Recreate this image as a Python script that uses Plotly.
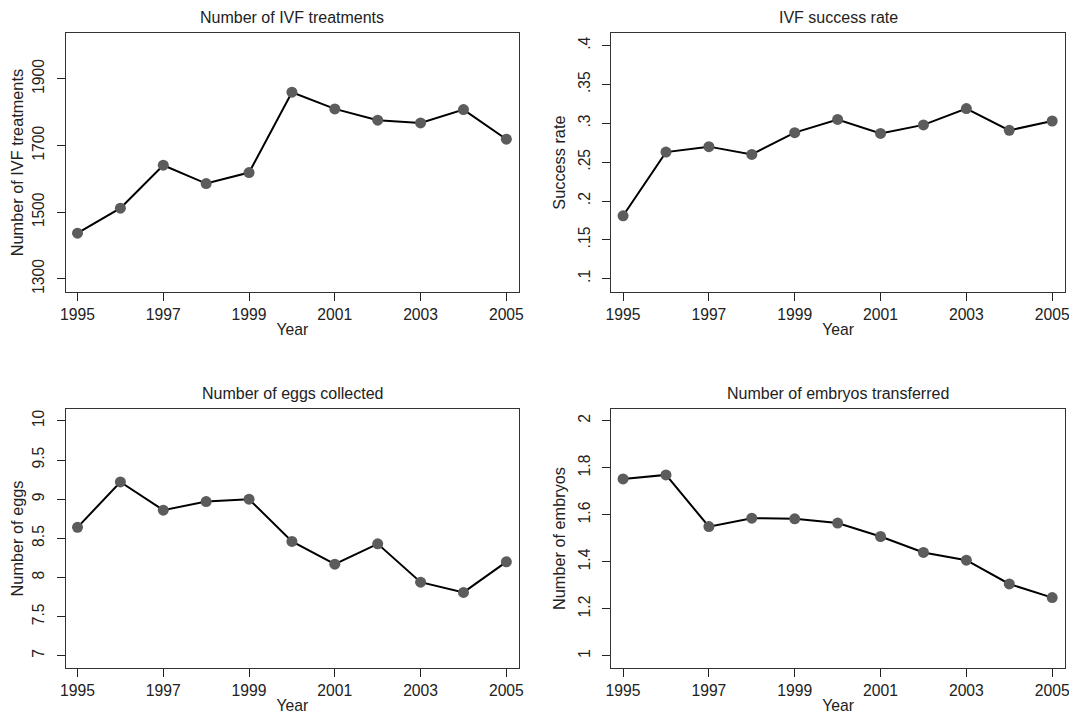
import plotly.graph_objects as go

years = [1995, 1996, 1997, 1998, 1999, 2000, 2001, 2002, 2003, 2004, 2005]
treatments = [1437, 1512, 1641, 1586, 1619, 1860, 1810, 1776, 1768, 1808, 1719]
success_rate = [0.181, 0.263, 0.270, 0.260, 0.288, 0.305, 0.287, 0.298, 0.319, 0.291, 0.303]
eggs = [8.64, 9.22, 8.86, 8.97, 9.00, 8.46, 8.17, 8.43, 7.94, 7.81, 8.20]
embryos = [1.753, 1.770, 1.550, 1.586, 1.583, 1.565, 1.508, 1.440, 1.407, 1.306, 1.248]

x_ticks = [1995, 1997, 1999, 2001, 2003, 2005]
x_ticklabels = ["1995", "1997", "1999", "2001", "2003", "2005"]

treat_ticks = [1300, 1500, 1700, 1900]
treat_labels = ["1300", "1500", "1700", "1900"]
rate_ticks = [0.1, 0.15, 0.2, 0.25, 0.3, 0.35, 0.4]
rate_labels = [".1", ".15", ".2", ".25", ".3", ".35", ".4"]
egg_ticks = [7, 7.5, 8, 8.5, 9, 9.5, 10]
egg_labels = ["7", "7.5", "8", "8.5", "9", "9.5", "10"]
emb_ticks = [1, 1.2, 1.4, 1.6, 1.8, 2]
emb_labels = ["1", "1.2", "1.4", "1.6", "1.8", "2"]

titles = ["Number of IVF treatments", "IVF success rate",
          "Number of eggs collected", "Number of embryos transferred"]
ytitles = ["Number of IVF treatments", "Success rate", "Number of eggs", "Number of embryos"]
series = [treatments, success_rate, eggs, embryos]
yticks = [treat_ticks, rate_ticks, egg_ticks, emb_ticks]
ylabels = [treat_labels, rate_labels, egg_labels, emb_labels]
yranges = [[1261, 2037], [0.083, 0.416], [6.843, 10.153], [0.948, 2.051]]

# page has an 8px body margin; figure is sized to fill the rest of the window
OFF = 8
W, H = 1077 - OFF, 715 - OFF
# panel boxes in window pixels: (left, right, top, bottom)
boxes = [(61, 519, 33.3, 292.7), (611.7, 1070, 33.3, 292.7),
         (61, 519, 410, 670), (611.7, 1070, 410, 670)]

FONT = "Arial, Liberation Sans, sans-serif"
TXT = "#222222"
fig = go.Figure()
layout = dict(
    width=W, height=H,
    margin=dict(l=0, r=0, t=0, b=0),
    paper_bgcolor="white", plot_bgcolor="white",
    showlegend=False,
    font=dict(family=FONT, color=TXT, size=15),
    annotations=[],
)

for i in range(4):
    n = "" if i == 0 else str(i + 1)
    L, R, T, B = [v - OFF for v in boxes[i]]
    fig.add_trace(go.Scatter(
        x=years, y=series[i], mode="lines+markers",
        line=dict(color="black", width=2),
        marker=dict(color="#5c5c5c", size=11),
        xaxis="x" + n, yaxis="y" + n,
    ))
    layout["xaxis" + n] = dict(
        domain=[L / W, R / W], anchor="y" + n,
        range=[1994.72, 2005.30],
        tickmode="array", tickvals=x_ticks, ticktext=x_ticklabels,
        ticks="outside", ticklen=8, tickcolor=TXT,
        showline=True, linecolor="#333333", linewidth=1, mirror=True,
        showgrid=False, zeroline=False,
        tickfont=dict(size=15.7, family=FONT, color=TXT),
        title=dict(text="Year", font=dict(size=15.7, family=FONT, color=TXT), standoff=2),
    )
    layout["yaxis" + n] = dict(
        domain=[1 - B / H, 1 - T / H], anchor="x" + n,
        range=yranges[i],
        tickmode="array", tickvals=yticks[i], ticktext=ylabels[i],
        tickangle=-90, ticklabelstandoff=6,
        ticks="outside", ticklen=8, tickcolor=TXT,
        showline=True, linecolor="#333333", linewidth=1, mirror=True,
        showgrid=False, zeroline=False,
        tickfont=dict(size=15.7, family=FONT, color=TXT),
        title=dict(text=ytitles[i], font=dict(size=16.3, family=FONT, color=TXT), standoff=6),
    )
    layout["annotations"].append(dict(
        text=titles[i], xref="paper", yref="paper",
        x=(L + R) / 2 / W, y=1 - (T - 15.5) / H,
        showarrow=False, xanchor="center", yanchor="middle",
        font=dict(size=16, family=FONT, color=TXT),
    ))

fig.update_layout(**layout)
fig.write_html("out.html")
